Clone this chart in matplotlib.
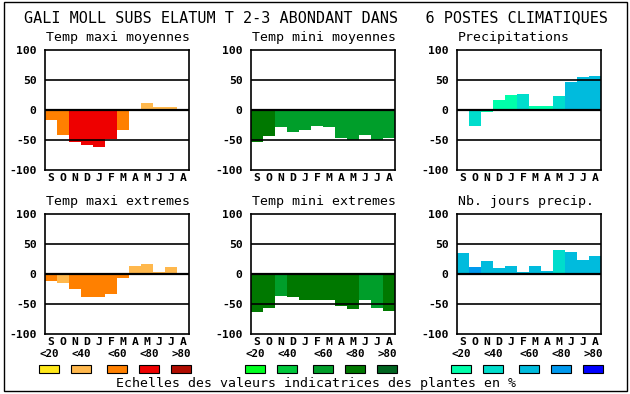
import matplotlib
matplotlib.use("Agg")
import matplotlib.pyplot as plt
from matplotlib.patches import Rectangle

W, H = 630, 394

months = ['S', 'O', 'N', 'D', 'J', 'F', 'M', 'A', 'M', 'J', 'J', 'A']
main_title = "GALI MOLL SUBS ELATUM T 2-3 ABONDANT DANS   6 POSTES CLIMATIQUES"
classes = ['<20', '<40', '<60', '<80', '>80']

warm = ['#FFE81A', '#FFB84D', '#FF8000', '#EE0000', '#B00C00']
green = ['#00FF20', '#00C83C', '#009E2A', '#007800', '#006420']
blue = ['#00FFAA', '#00DDCC', '#00BBDD', '#0099EE', '#0000FF']

titles = ['Temp maxi moyennes', 'Temp mini moyennes', 'Precipitations',
          'Temp maxi extremes', 'Temp mini extremes', 'Nb. jours precip.']

tmax_moy = [-16, -41, -54, -58, -61, -48, -33, 2, 12, 5, 5, 2]
tmax_moy_cls = [2, 2, 3, 3, 3, 3, 2, 2, 1, 1, 1, 1]
tmin_moy = [-54, -43, -28, -36, -34, -27, -28, -47, -50, -42, -50, -47]
tmin_moy_cls = [3, 3, 2, 2, 2, 2, 2, 2, 2, 2, 2, 2]
precip = [2, -26, -4, 17, 25, 27, 7, 7, 23, 47, 55, 57]
precip_cls = [0, 1, 0, 0, 0, 1, 0, 0, 1, 2, 2, 2]
tmax_ext = [-11, -15, -25, -38, -38, -33, -6, 13, 17, 3, 12, 0]
tmax_ext_cls = [2, 1, 2, 2, 2, 2, 2, 1, 1, 1, 1, 1]
tmin_ext = [-63, -56, -36, -38, -43, -44, -43, -53, -58, -44, -56, -61]
tmin_ext_cls = [3, 3, 2, 3, 3, 3, 3, 3, 3, 2, 2, 3]
jours = [35, 12, 22, 10, 13, 3, 13, 5, 40, 37, 23, 30]
jours_cls = [2, 3, 2, 2, 2, 2, 2, 2, 1, 2, 2, 2]

panels = [
    (tmax_moy, tmax_moy_cls, warm, 45, 50),
    (tmin_moy, tmin_moy_cls, green, 251, 50),
    (precip, precip_cls, blue, 457, 50),
    (tmax_ext, tmax_ext_cls, warm, 45, 214),
    (tmin_ext, tmin_ext_cls, green, 251, 214),
    (jours, jours_cls, blue, 457, 214),
]

mono = 'DejaVu Sans Mono'
fig = plt.figure(figsize=(W / 100, H / 100), dpi=100)

# cadre general
fig.patches.append(Rectangle((4 / W, 3 / H), 623 / W, 389 / H, transform=fig.transFigure,
                             fill=False, edgecolor='black', linewidth=1))

fig.text(0.5 * (27 + 606) / W, 1 - 18 / H, main_title, family=mono, fontsize=10.9,
         ha='center', va='center')

for i, (vals, cls, pal, x0, y0) in enumerate(panels):
    ax = fig.add_axes([x0 / W, 1 - (y0 + 120) / H, 144 / W, 120 / H])
    cols = [pal[c] for c in cls]
    ax.bar(range(12), vals, width=1.0, align='edge', color=cols, linewidth=0, zorder=2)
    ax.set_xlim(0, 12)
    ax.set_ylim(-100, 100)
    for y, lw in [(50, 1.2), (-50, 1.2), (0, 1.6)]:
        ax.axhline(y, color='black', linewidth=lw, zorder=3)
    ax.set_yticks([-100, -50, 0, 50, 100])
    ax.set_yticklabels(['-100', '-50', '0', '50', '100'], family=mono,
                       fontweight='bold', fontsize=8.2)
    ax.set_xticks([k + 0.5 for k in range(12)])
    ax.set_xticklabels(months, family=mono, fontweight='bold', fontsize=8.2)
    ax.tick_params(axis='y', length=0, pad=6)
    ax.tick_params(axis='x', length=0, pad=2)
    for s in ax.spines.values():
        s.set_linewidth(1.2)
        s.set_zorder(4)
    fig.text((x0 + 1) / W, 1 - (y0 - 12) / H, titles[i], family=mono, fontsize=9.5,
             ha='left', va='center')

# legende
leg_x = [[39, 71, 107, 139, 171], [245, 277, 313, 345, 377], [451, 483, 519, 551, 583]]
for pal, xs in zip([warm, green, blue], leg_x):
    for c, lab, x in zip(pal, classes, xs):
        fig.text(x / W, 1 - 354 / H, lab, family=mono, fontweight='bold', fontsize=7.8,
                 ha='left', va='center')
        fig.patches.append(Rectangle((x / W, 1 - 373 / H), 20 / W, 8 / H,
                                     transform=fig.transFigure, facecolor=c,
                                     edgecolor='black', linewidth=0.8))

fig.text(0.5 * (116 + 517) / W, 1 - 383 / H,
         "Echelles des valeurs indicatrices des plantes en %",
         family=mono, fontsize=9.5, ha='center', va='center')

fig.savefig('out.png', dpi=100)
